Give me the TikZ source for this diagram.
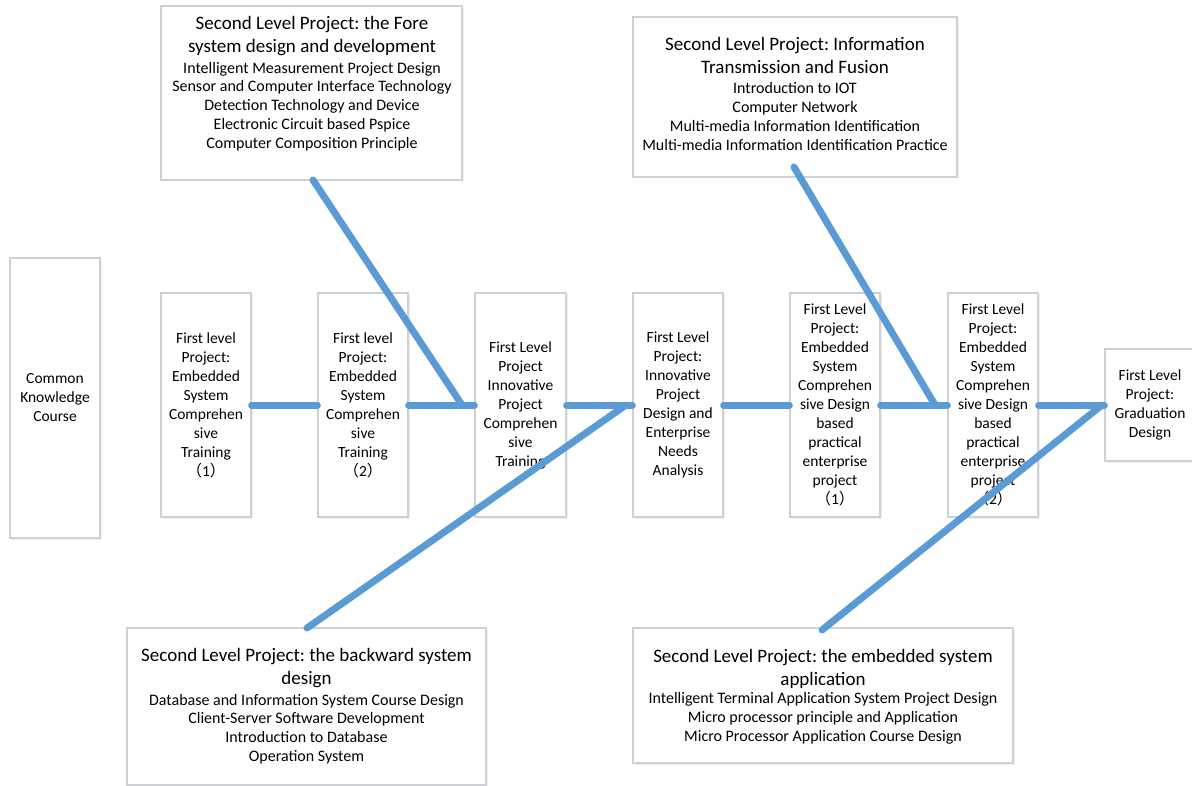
\documentclass[tikz,border=0pt]{standalone}
\usepackage{fontspec}
\setmainfont{Carlito}
\newfontfamily\cjk{Noto Sans CJK SC}
\usetikzlibrary{shadows}
\definecolor{boxgray}{RGB}{205,208,212}
\definecolor{fishblue}{RGB}{91,155,213}
\newcommand{\fp}[1]{{\cjk （}#1{\cjk ）}}
\frenchspacing
\tikzset{
  frame/.style={draw=boxgray, line width=1.3pt, fill=white, inner sep=0pt,
    drop shadow={opacity=0.12, shadow xshift=1.5pt, shadow yshift=-1.5pt}},
  firstbox/.style={frame, minimum width=90pt, minimum height=224pt, align=center,
    font=\fontsize{15.5}{19}\selectfont\frenchspacing},
  titletext/.style={align=center, inner sep=0pt, font=\fontsize{19}{23}\selectfont\frenchspacing},
  listtext/.style={align=center, inner sep=0pt, font=\fontsize{16}{18.8}\selectfont\frenchspacing},
  bone/.style={draw=fishblue, line width=7pt, line cap=round}
}
\begin{document}
\begin{tikzpicture}[x=1pt,y=-1pt]
\useasboundingbox (0,0) rectangle (1192,786);
% first level boxes
\node[firstbox, minimum height=280pt] (ck) at (55,398) {Common\\Knowledge\\Course};
\node[firstbox] (b1) at (206,405) {First level\\Project:\\Embedded\\System\\Comprehen\\sive\\Training\\\fp{1}};
\node[firstbox] (b2) at (363,405) {First level\\Project:\\Embedded\\System\\Comprehen\\sive\\Training\\\fp{2}};
\node[firstbox, minimum width=91pt] (b3) at (520.5,405) {First Level\\Project\\Innovative\\Project\\Comprehen\\sive\\Training};
\node[firstbox] (b4) at (678,405) {First Level\\Project:\\Innovative\\Project\\Design and\\Enterprise\\Needs\\Analysis};
\node[firstbox] (b5) at (835,405) {First Level\\Project:\\Embedded\\System\\Comprehen\\sive Design\\based\\practical\\enterprise\\project\\\fp{1}};
\node[firstbox] (b6) at (993,405) {First Level\\Project:\\Embedded\\System\\Comprehen\\sive Design\\based\\practical\\enterprise\\project\\\fp{2}};
\node[firstbox, minimum height=112pt] (b7) at (1150,405) {First Level\\Project:\\Graduation\\Design};
% second level boxes
\node[frame, minimum width=301pt, minimum height=174pt] (tl) at (311.5,93) {};
\node[titletext] (tlT) at (312,36.5) {Second Level Project: the Fore\\system design and development};
\node[listtext] (tlL) at (312,106.5) {Intelligent Measurement Project Design\\Sensor and Computer Interface Technology\\Detection Technology and Device\\Electronic Circuit based Pspice\\Computer Composition Principle};
\node[frame, minimum width=324pt, minimum height=160pt] (tr) at (795,97) {};
\node[titletext] (trT) at (795,55.5) {Second Level Project: Information\\Transmission and Fusion};
\node[listtext] (trL) at (795,116.5) {Introduction to IOT\\Computer Network\\Multi-media Information Identification\\Multi-media Information Identification Practice};
\node[frame, minimum width=359pt, minimum height=157pt] (bl) at (306.5,706.5) {};
\node[titletext] (blT) at (306.5,668.5) {Second Level Project: the backward system\\design};
\node[listtext] (blL) at (306.5,729) {Database and Information System Course Design\\Client-Server Software Development\\Introduction to Database\\Operation System};
\node[frame, minimum width=380pt, minimum height=135pt] (br) at (823,695.5) {};
\node[titletext] (brT) at (823,668.5) {Second Level Project: the embedded system\\application};
\node[listtext] (brL) at (823,718.5) {Intelligent Terminal Application System Project Design\\Micro processor principle and Application\\Micro Processor Application Course Design};
% joints
\coordinate (s1) at (313,180);
\coordinate (j1) at (462,405);
\coordinate (s2) at (307,628);
\coordinate (j2) at (626,405);
\coordinate (s3) at (794,167);
\coordinate (j3) at (935,405);
\coordinate (s4) at (822,630);
\coordinate (j4) at (1102,405);
% spine
\draw[bone] (b1.east) -- (b2.west);
\draw[bone] (b2.east) -- (b3.west);
\draw[bone] (b3.east) -- (b4.west);
\draw[bone] (b4.east) -- (b5.west);
\draw[bone] (b5.east) -- (b6.west);
\draw[bone] (b6.east) -- (b7.west);
% ribs
\draw[bone] (s1) -- (j1);
\draw[bone] (s2) -- (j2);
\draw[bone] (s3) -- (j3);
\draw[bone] (s4) -- (j4);
\end{tikzpicture}
\end{document}
